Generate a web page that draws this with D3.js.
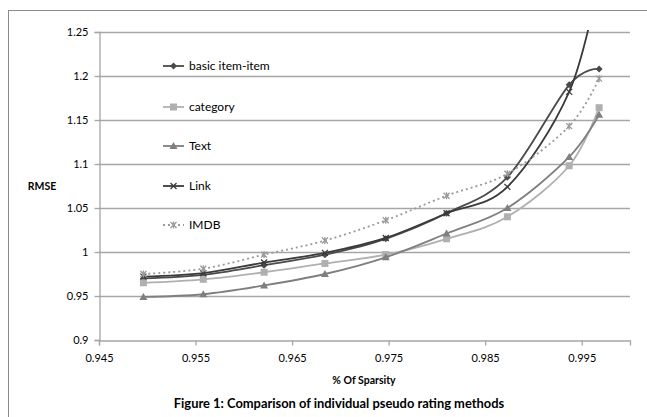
<!DOCTYPE html>
<html><head><meta charset="utf-8">
<script src="https://cdn.jsdelivr.net/npm/d3@7"></script>
<style>body{margin:0;background:#fff}svg{display:block}text{font-family:Lato,"Open Sans",sans-serif;fill:#000}</style>
</head><body><svg id="c" width="647" height="417"></svg>
<script>
const sparsity = [0.9496, 0.9558, 0.9621, 0.9684, 0.9747, 0.9810, 0.9873, 0.9937, 0.9968];
const basicItem = [0.970, 0.974, 0.985, 0.997, 1.015, 1.044, 1.085, 1.190, 1.208];
const category  = [0.965, 0.969, 0.977, 0.987, 0.997, 1.015, 1.040, 1.098, 1.164];
const textS     = [0.949, 0.952, 0.962, 0.975, 0.994, 1.021, 1.050, 1.108, 1.156];
const link      = [0.972, 0.976, 0.988, 0.999, 1.016, 1.044, 1.074, 1.182, 1.310];
const imdb      = [0.975, 0.981, 0.997, 1.013, 1.036, 1.064, 1.089, 1.143, 1.197];
const seriesNames = ["basic item-item", "category", "Text", "Link", "IMDB"];
const xTicks = [0.945, 0.955, 0.965, 0.975, 0.985, 0.995];
const yTicks = [0.9, 0.95, 1, 1.05, 1.1, 1.15, 1.2, 1.25];

const svg = d3.select("#c");
const L = 99, R = 630, T = 32, B = 340;
const x = d3.scaleLinear().domain([0.945, 1.0]).range([L, R]);
const y = d3.scaleLinear().domain([0.9, 1.25]).range([B, T]);

svg.append("rect").attr("x",8.5).attr("y",10.5).attr("width",650).attr("height",420)
  .attr("fill","none").attr("stroke","#8c8c8c").attr("stroke-width",1);

// gridlines
svg.append("g").selectAll("line").data(yTicks.slice(1)).join("line")
  .attr("x1",L).attr("x2",R).attr("y1",d=>Math.round(y(d))+0.5).attr("y2",d=>Math.round(y(d))+0.5)
  .attr("stroke","#a6a6a6").attr("stroke-width",1.3);

// axes
const yAx = svg.append("g").attr("transform",`translate(${L+0.5},0)`)
  .call(d3.axisLeft(y).tickValues(yTicks).tickFormat(d3.format("")).tickSize(5).tickPadding(6));
const xAx = svg.append("g").attr("transform",`translate(0,${B+0.5})`)
  .call(d3.axisBottom(x).tickValues(xTicks).tickFormat(d3.format(".3f")).tickSize(5).tickPadding(9));
[yAx,xAx].forEach(g=>{
  g.select(".domain").attr("stroke","#a6a6a6").attr("stroke-width",1.3);
  g.selectAll(".tick line").attr("stroke","#a6a6a6").attr("stroke-width",1.3);
  g.selectAll("text").attr("font-size",11).attr("font-family","Lato,'Open Sans',sans-serif").attr("fill","#000");
});

svg.append("defs").append("clipPath").attr("id","clip").append("rect")
  .attr("x",L).attr("y",T-2).attr("width",R-L).attr("height",B-T+4);

const styles = [
  {data: basicItem, color:"#4a4a4a", dash:null, marker:"diamond"},
  {data: category,  color:"#b0b0b0", dash:null, marker:"square"},
  {data: textS,     color:"#7f7f7f", dash:null, marker:"triangle"},
  {data: link,      color:"#3a3a3a", dash:null, marker:"cross"},
  {data: imdb,      color:"#9a9a9a", dash:"2,3", marker:"star"}
];

const line = d3.line().x(d=>x(d[0])).y(d=>y(d[1])).curve(d3.curveCatmullRom.alpha(0));

function drawMarker(g, type, cx, cy, color){
  if(type==="diamond"){
    g.append("path").attr("d",`M${cx},${cy-3.5}L${cx+3.5},${cy}L${cx},${cy+3.5}L${cx-3.5},${cy}Z`).attr("fill",color);
  } else if(type==="square"){
    g.append("rect").attr("x",cx-3.5).attr("y",cy-3.5).attr("width",7).attr("height",7).attr("fill",color);
  } else if(type==="triangle"){
    g.append("path").attr("d",`M${cx},${cy-4}L${cx+4},${cy+3}L${cx-4},${cy+3}Z`).attr("fill",color);
  } else if(type==="cross"){
    g.append("path").attr("d",`M${cx-3},${cy-3}L${cx+3},${cy+3}M${cx-3},${cy+3}L${cx+3},${cy-3}`)
      .attr("stroke",color).attr("stroke-width",1.3);
  } else if(type==="star"){
    g.append("path").attr("d",`M${cx-3},${cy-3}L${cx+3},${cy+3}M${cx-3},${cy+3}L${cx+3},${cy-3}M${cx},${cy-3.5}L${cx},${cy+3.5}`)
      .attr("stroke",color).attr("stroke-width",1.3);
  }
}

const plot = svg.append("g").attr("clip-path","url(#clip)");
styles.forEach(s=>{
  const pts = sparsity.map((v,i)=>[v, s.data[i]]);
  plot.append("path").attr("d",line(pts)).attr("fill","none").attr("stroke",s.color)
    .attr("stroke-width",1.8).attr("stroke-dasharray",s.dash);
  const mg = plot.append("g");
  pts.forEach(p=>{ if(p[1]<=1.25) drawMarker(mg, s.marker, x(p[0]), y(p[1]), s.color); });
});

// legend
const legY = [66, 107, 146, 186, 225];
styles.forEach((s,i)=>{
  const g = svg.append("g");
  g.append("line").attr("x1",163).attr("x2",184).attr("y1",legY[i]).attr("y2",legY[i])
    .attr("stroke",s.color).attr("stroke-width",1.8).attr("stroke-dasharray",s.dash);
  drawMarker(g, s.marker, 173.5, legY[i], s.color);
  g.append("text").attr("x",189).attr("y",legY[i]).attr("dy","0.35em").attr("font-size",12).text(seriesNames[i]);
});

svg.append("text").attr("x",42).attr("y",186).attr("dy","0.35em").attr("text-anchor","middle")
  .attr("font-size",10.5).attr("font-weight","bold").text("RMSE");
svg.append("text").attr("x",364).attr("y",380).attr("dy","0.35em").attr("text-anchor","middle")
  .attr("font-size",10.5).attr("font-weight","bold").text("% Of Sparsity");
svg.append("text").attr("x",339).attr("y",403).attr("dy","0.35em").attr("text-anchor","middle")
  .attr("font-size",12.9).attr("font-weight","bold").text("Figure 1: Comparison of individual pseudo rating methods");
</script></body></html>
